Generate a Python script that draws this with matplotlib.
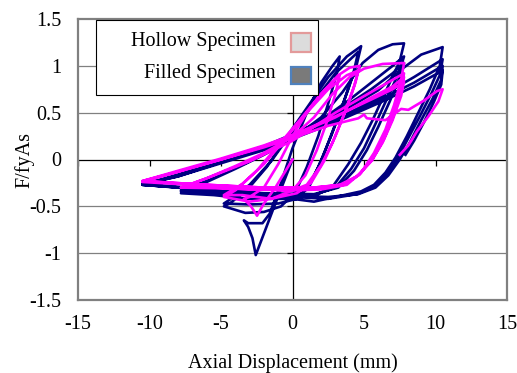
import matplotlib.pyplot as plt
from matplotlib.patches import Rectangle

plt.rcParams["font.family"] = ["Liberation Serif", "DejaVu Serif"]

# Tick values and labels
x_ticks = [-15, -10, -5, 0, 5, 10, 15]
x_labels = ["-15", "-10", "-5", "0", "5", "10", "15"]
y_ticks = [-1.5, -1, -0.5, 0, 0.5, 1, 1.5]
y_labels = ["-1.5", "-1", "-0.5", "0", "0.5", "1", "1.5"]
grid_levels = [-1, -0.5, 0.5, 1]

series_names = ["Hollow Specimen", "Filled Specimen"]

# Filled specimen: continuous displacement (mm) / normalised force trace
filled_disp = [
    0.0, -1.2, -2.57, -2.8, -3.1, -3.4,
    -3.1, -2.1, -1.6, -0.8, 0.0, 1.0, 2.0, 2.8, 3.3,
    3.1, 2.5, 1.8, 1.0, 0.2, -0.8, -2.0, -3.3, -4.8,
    -4.4, -3.2, -1.8, -0.5, 1.0, 2.5, 3.8, 4.8,
    4.5, 3.9, 3.0, 2.1, 1.2, 0.3, -1.0, -3.0, -4.8,
    -4.4, -3.0, -1.5, 0.0, 1.5, 3.0, 4.6,
    4.3, 3.6, 2.7, 1.8, 1.0, 0.0, -3.0, -5.5, -7.8,
    -6.0, -4.0, -2.0, 0.0, 2.0, 3.5, 4.9, 6.0, 7.0, 7.8,
    7.5, 6.5, 5.6, 4.8, 3.9, 2.9, 1.8, 0.0, -4.0, -7.8,
    -6.0, -4.0, -2.0, 0.0, 2.0, 4.0, 6.0, 7.0, 7.8,
    7.5, 6.7, 5.8, 5.0, 4.1, 3.0, 1.5, 0.0, -4.0, -7.8,
    -6.0, -3.0, 0.0, 3.0, 5.5, 7.0, 7.8,
    7.5, 6.8, 6.0, 5.2, 4.3, 3.2, 1.5, -2.0, -6.0, -10.5,
    -8.0, -5.0, -2.0, 0.0, 2.0, 4.0, 6.0, 7.6, 9.0, 10.5,
    10.3, 9.6, 8.8, 8.0, 7.2, 6.5, 5.7, 4.8, 3.0, 1.5, 0.0, -3.0, -6.0, -10.5,
    -8.0, -5.0, -2.0, 0.0, 3.0, 6.0, 8.5, 10.5,
    10.3, 9.7, 8.9, 8.0, 7.3, 6.5, 5.6, 4.5, 2.5, 0.0, -4.0, -10.5,
    -8.0, -5.0, -2.0, 0.0, 3.0, 6.0, 8.5, 10.5,
    10.4, 9.8, 9.0, 8.2, 7.5, 6.7, 5.8, 4.6, 2.5, 0.0, -4.0, -10.5,
    -8.0, -5.0, -2.0, 0.0, 3.0, 6.0, 8.5, 10.5,
    10.4, 9.9, 9.2, 8.5, 7.9,
]
filled_force = [
    0.0, -0.47, -1.02, -0.84, -0.72, -0.65,
    -0.68, -0.68, -0.58, -0.25, 0.12, 0.5, 0.82, 1.0, 1.1,
    0.92, 0.6, 0.25, -0.08, -0.35, -0.5, -0.56, -0.57, -0.5,
    -0.47, -0.33, -0.08, 0.22, 0.55, 0.88, 1.1, 1.21,
    1.02, 0.75, 0.38, 0.02, -0.28, -0.42, -0.47, -0.48, -0.47,
    -0.43, -0.27, -0.02, 0.3, 0.62, 0.92, 1.15,
    0.95, 0.62, 0.25, -0.08, -0.32, -0.42, -0.42, -0.38, -0.36,
    -0.24, -0.1, 0.05, 0.22, 0.45, 0.72, 1.03, 1.17, 1.23, 1.24,
    1.05, 0.72, 0.42, 0.18, -0.05, -0.27, -0.37, -0.4, -0.37, -0.34,
    -0.22, -0.09, 0.06, 0.22, 0.42, 0.64, 0.88, 1.0, 1.1,
    0.95, 0.68, 0.38, 0.12, -0.1, -0.3, -0.38, -0.38, -0.35, -0.33,
    -0.21, -0.02, 0.22, 0.5, 0.75, 0.92, 1.03,
    0.88, 0.62, 0.35, 0.1, -0.12, -0.3, -0.37, -0.36, -0.32, -0.27,
    -0.16, -0.01, 0.14, 0.27, 0.41, 0.56, 0.74, 0.96, 1.12, 1.2,
    1.0, 0.75, 0.5, 0.25, 0.02, -0.14, -0.27, -0.34, -0.4, -0.45, -0.42, -0.37, -0.32, -0.27,
    -0.17, -0.02, 0.13, 0.25, 0.44, 0.66, 0.88, 1.07,
    0.9, 0.7, 0.46, 0.2, 0.0, -0.17, -0.3, -0.37, -0.42, -0.4, -0.35, -0.27,
    -0.18, -0.03, 0.12, 0.24, 0.42, 0.63, 0.82, 1.0,
    0.85, 0.65, 0.42, 0.18, 0.0, -0.17, -0.3, -0.37, -0.4, -0.39, -0.34, -0.26,
    -0.18, -0.04, 0.1, 0.22, 0.4, 0.6, 0.78, 0.95,
    0.8, 0.62, 0.4, 0.2, 0.05,
]

# Hollow specimen trace
hollow_disp = [
    0.0, -1.2, -2.0, -2.48, -2.9, -3.4,
    -3.0, -2.0, -1.0, 0.0, 1.0, 2.0, 3.0, 3.3,
    3.0, 2.4, 1.7, 0.9, 0.0, -1.5, -3.0, -4.8,
    -4.0, -2.5, -1.0, 0.5, 2.0, 3.2, 4.0, 4.7,
    4.4, 3.8, 3.0, 2.2, 1.3, 0.3, -1.5, -3.5, -4.8,
    -3.5, -2.0, -0.5, 1.0, 2.5, 3.8, 4.6,
    4.3, 3.6, 2.8, 2.0, 1.0, 0.0, -3.0, -5.5, -7.8,
    -6.0, -4.0, -2.0, 0.0, 1.5, 2.8, 4.0, 5.0, 6.3, 7.8,
    7.6, 7.1, 6.5, 5.7, 4.8, 3.8, 2.0, 0.0, -4.0, -7.8,
    -6.0, -3.0, 0.0, 3.0, 5.5, 7.0, 7.8,
    7.6, 7.1, 6.4, 5.6, 4.7, 3.6, 1.5, -2.0, -6.0, -10.5,
    -8.0, -5.0, -2.0, 0.0, 3.0, 5.5, 7.0, 7.8,
    7.6, 7.1, 6.4, 5.6, 4.6, 3.5, 1.5, -2.0, -6.0, -10.5,
    -8.0, -5.0, -2.0, 0.0, 3.0, 5.5, 7.0, 7.8,
    7.6, 7.0, 6.3, 5.5, 4.5, 3.3, 1.5, -2.0, -6.0, -10.5,
    -8.0, -5.0, -2.0, 0.0, 2.5, 4.6, 5.0, 5.2, 6.5, 7.6, 8.1, 9.2, 10.1, 10.5,
    10.2, 9.5, 8.7, 8.1, 7.5,
]
hollow_force = [
    0.0, -0.3, -0.47, -0.6, -0.5, -0.42,
    -0.4, -0.3, -0.05, 0.25, 0.5, 0.7, 0.85, 0.9,
    0.7, 0.4, 0.1, -0.17, -0.33, -0.42, -0.45, -0.4,
    -0.33, -0.12, 0.15, 0.42, 0.7, 0.9, 0.98, 1.0,
    0.82, 0.55, 0.25, -0.02, -0.25, -0.36, -0.42, -0.38, -0.38,
    -0.26, -0.05, 0.22, 0.5, 0.75, 0.9, 0.95,
    0.78, 0.48, 0.18, -0.06, -0.27, -0.33, -0.32, -0.3, -0.3,
    -0.2, -0.07, 0.07, 0.24, 0.45, 0.7, 0.88, 0.97, 1.02, 1.03,
    0.85, 0.58, 0.32, 0.07, -0.14, -0.27, -0.32, -0.33, -0.31, -0.3,
    -0.2, -0.02, 0.2, 0.5, 0.72, 0.85, 0.92,
    0.78, 0.52, 0.25, 0.02, -0.16, -0.27, -0.31, -0.31, -0.28, -0.24,
    -0.13, 0.0, 0.14, 0.25, 0.45, 0.66, 0.78, 0.88,
    0.72, 0.48, 0.22, 0.0, -0.17, -0.27, -0.3, -0.3, -0.27, -0.23,
    -0.12, 0.01, 0.15, 0.26, 0.46, 0.64, 0.75, 0.83,
    0.68, 0.42, 0.18, -0.02, -0.18, -0.27, -0.3, -0.3, -0.27, -0.23,
    -0.13, 0.0, 0.13, 0.23, 0.36, 0.44, 0.48, 0.44, 0.42, 0.54, 0.53, 0.63, 0.73, 0.75,
    0.62, 0.46, 0.3, 0.15, 0.05,
]

fig = plt.figure(figsize=(5.17, 3.73), dpi=100)
ax = fig.add_axes([78 / 517, 1 - 300 / 373, 429 / 517, 281 / 373])

# Grid and zero axes
for g in grid_levels:
    ax.axhline(g, color="#808080", lw=0.9, zorder=0)
ax.axhline(0, color="black", lw=0.9, zorder=1)
ax.axvline(0, color="black", lw=0.9, zorder=1)
ax.plot([t for t in x_ticks if t != 0], [0] * (len(x_ticks) - 1), ls="none",
        marker=3, ms=4, mew=0.9, color="black", zorder=1)
ax.plot([0] * (len(y_ticks) - 1), [t for t in y_ticks if t != 0], ls="none",
        marker=0, ms=4, mew=0.9, color="black", zorder=1)

# Hysteresis loops
ax.plot(filled_disp, filled_force, color="#000080", lw=1.9, zorder=3,
        solid_joinstyle="round")
ax.plot(hollow_disp, hollow_force, color="#ff00ff", lw=1.9, zorder=4,
        solid_joinstyle="round")

ax.set_xlim(-15, 15)
ax.set_ylim(-1.5, 1.5)
ax.set_xticks(x_ticks)
ax.set_xticklabels(x_labels)
ax.set_yticks(y_ticks)
ax.set_yticklabels(y_labels)
ax.tick_params(length=0, labelsize=14.5, colors="black")
ax.tick_params(axis="x", pad=11)
ax.tick_params(axis="y", pad=12)
for s in ax.spines.values():
    s.set_color("#808080")
    s.set_linewidth(1.6)

ax.set_xlabel("Axial Displacement (mm)", fontsize=14.5, labelpad=14)
ax.set_ylabel("F/fyAs", fontsize=14.5, labelpad=-4)

# Legend box drawn by hand to match the spreadsheet style
ax.add_patch(Rectangle((0.042, 0.730), 0.517, 0.268, transform=ax.transAxes,
                       facecolor="white", edgecolor="black", lw=0.8, zorder=6))
ax.text(0.4615, 0.921, series_names[0], transform=ax.transAxes, ha="right",
        va="center", fontsize=14.5, zorder=7)
ax.text(0.4615, 0.805, series_names[1], transform=ax.transAxes, ha="right",
        va="center", fontsize=14.5, zorder=7)
ax.add_patch(Rectangle((0.4965, 0.883), 0.046, 0.066, transform=ax.transAxes,
                       facecolor="#dcdcdc", edgecolor="#e39a9a", lw=1.6, zorder=7))
ax.add_patch(Rectangle((0.4965, 0.770), 0.046, 0.060, transform=ax.transAxes,
                       facecolor="#7a7a7a", edgecolor="#4f81bd", lw=1.6, zorder=7))

fig.savefig("out.png", dpi=100)
